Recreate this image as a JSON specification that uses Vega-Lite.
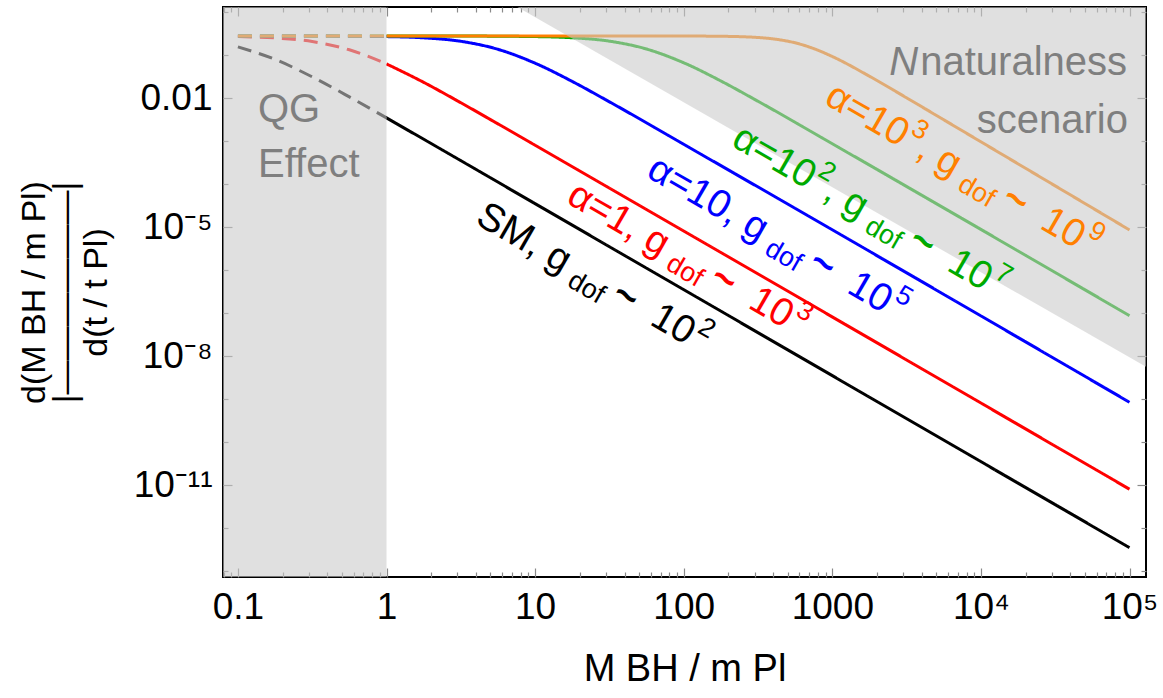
{
  "$schema": "https://vega.github.io/schema/vega-lite/v6.json",
  "width": 923,
  "height": 570,
  "autosize": {"type": "none"},
  "padding": {"left": 223, "top": 7, "right": 17, "bottom": 121},
  "config": {
    "font": "Liberation Sans",
    "view": {"stroke": "#000000", "strokeWidth": 2},
    "axis": {"grid": false, "domain": false, "tickColor": "#8a8a8a", "tickWidth": 1.2, "labelColor": "#000000", "titleColor": "#000000", "titleFontWeight": "normal", "labelOverlap": false, "labelFlush": false, "labelBound": false}
  },
  "datasets": {
    "curves": [
      {"M": 0.1, "v": 0.1568, "series": "SM", "seg": "dashed"},
      {"M": 0.17783, "v": 0.08021, "series": "SM", "seg": "dashed"},
      {"M": 0.31623, "v": 0.03151, "series": "SM", "seg": "dashed"},
      {"M": 0.56234, "v": 0.01079, "series": "SM", "seg": "dashed"},
      {"M": 1, "v": 0.003504, "series": "SM", "seg": "dashed"},
      {"M": 1, "v": 0.003504, "series": "SM", "seg": "solid"},
      {"M": 3.1623, "v": 0.0003544, "series": "SM", "seg": "solid"},
      {"M": 10, "v": 0.00003544, "series": "SM", "seg": "solid"},
      {"M": 100000, "v": 3.548e-13, "series": "SM", "seg": "solid"},
      {"M": 0.1, "v": 0.2718, "series": "α=1", "seg": "dashed"},
      {"M": 0.17783, "v": 0.2534, "series": "α=1", "seg": "dashed"},
      {"M": 0.31623, "v": 0.2088, "series": "α=1", "seg": "dashed"},
      {"M": 0.56234, "v": 0.1341, "series": "α=1", "seg": "dashed"},
      {"M": 1, "v": 0.06295, "series": "α=1", "seg": "dashed"},
      {"M": 1, "v": 0.06295, "series": "α=1", "seg": "solid"},
      {"M": 1.7783, "v": 0.0235, "series": "α=1", "seg": "solid"},
      {"M": 3.1623, "v": 0.007882, "series": "α=1", "seg": "solid"},
      {"M": 5.6234, "v": 0.002542, "series": "α=1", "seg": "solid"},
      {"M": 10, "v": 0.0008087, "series": "α=1", "seg": "solid"},
      {"M": 100000, "v": 8.11e-12, "series": "α=1", "seg": "solid"},
      {"M": 0.1, "v": 0.2811, "series": "α=10", "seg": "dashed"},
      {"M": 0.31623, "v": 0.2802, "series": "α=10", "seg": "dashed"},
      {"M": 1, "v": 0.2721, "series": "α=10", "seg": "dashed"},
      {"M": 1, "v": 0.2721, "series": "α=10", "seg": "solid"},
      {"M": 1.7783, "v": 0.2546, "series": "α=10", "seg": "solid"},
      {"M": 3.1623, "v": 0.2115, "series": "α=10", "seg": "solid"},
      {"M": 5.6234, "v": 0.1377, "series": "α=10", "seg": "solid"},
      {"M": 10, "v": 0.06544, "series": "α=10", "seg": "solid"},
      {"M": 17.783, "v": 0.02462, "series": "α=10", "seg": "solid"},
      {"M": 31.623, "v": 0.008279, "series": "α=10", "seg": "solid"},
      {"M": 100, "v": 0.0008506, "series": "α=10", "seg": "solid"},
      {"M": 100000, "v": 8.531e-10, "series": "α=10", "seg": "solid"},
      {"M": 0.1, "v": 0.2812, "series": "α=10²", "seg": "dashed"},
      {"M": 1, "v": 0.2811, "series": "α=10²", "seg": "dashed"},
      {"M": 1, "v": 0.2811, "series": "α=10²", "seg": "solid"},
      {"M": 3.1623, "v": 0.2803, "series": "α=10²", "seg": "solid"},
      {"M": 10, "v": 0.2724, "series": "α=10²", "seg": "solid"},
      {"M": 17.783, "v": 0.2553, "series": "α=10²", "seg": "solid"},
      {"M": 31.623, "v": 0.2131, "series": "α=10²", "seg": "solid"},
      {"M": 56.234, "v": 0.1398, "series": "α=10²", "seg": "solid"},
      {"M": 100, "v": 0.06696, "series": "α=10²", "seg": "solid"},
      {"M": 177.83, "v": 0.02528, "series": "α=10²", "seg": "solid"},
      {"M": 316.23, "v": 0.008523, "series": "α=10²", "seg": "solid"},
      {"M": 1000, "v": 0.0008763, "series": "α=10²", "seg": "solid"},
      {"M": 100000, "v": 8.79e-8, "series": "α=10²", "seg": "solid"},
      {"M": 0.1, "v": 0.2812, "series": "α=10³", "seg": "dashed"},
      {"M": 1, "v": 0.2812, "series": "α=10³", "seg": "dashed"},
      {"M": 1, "v": 0.2812, "series": "α=10³", "seg": "solid"},
      {"M": 31.623, "v": 0.2812, "series": "α=10³", "seg": "solid"},
      {"M": 100, "v": 0.2804, "series": "α=10³", "seg": "solid"},
      {"M": 177.83, "v": 0.2769, "series": "α=10³", "seg": "solid"},
      {"M": 316.23, "v": 0.2593, "series": "α=10³", "seg": "solid"},
      {"M": 421.7, "v": 0.235, "series": "α=10³", "seg": "solid"},
      {"M": 562.34, "v": 0.1949, "series": "α=10³", "seg": "solid"},
      {"M": 749.9, "v": 0.1432, "series": "α=10³", "seg": "solid"},
      {"M": 1000, "v": 0.09369, "series": "α=10³", "seg": "solid"},
      {"M": 1778.3, "v": 0.03256, "series": "α=10³", "seg": "solid"},
      {"M": 3162.3, "v": 0.01025, "series": "α=10³", "seg": "solid"},
      {"M": 5623.4, "v": 0.003163, "series": "α=10³", "seg": "solid"},
      {"M": 10000, "v": 0.0009727, "series": "α=10³", "seg": "solid"},
      {"M": 100000, "v": 0.000008673, "series": "α=10³", "seg": "solid"}
    ],
    "qg": [{"lo": 0.07937, "hi": 1}],
    "nat": [
      {"M": 7.589, "v": 1.3274},
      {"M": 129122, "v": 5.728e-9}
    ],
    "labMain": [
      {"M": 3.88, "v": 1.258e-5, "t": "SM, g", "series": "SM"},
      {"M": 57.88, "v": 5.726e-8, "t": "10", "series": "SM"},
      {"M": 15.89, "v": 3.874e-5, "t": "α=1, g", "series": "α=1"},
      {"M": 265.79, "v": 1.4044e-7, "t": "10", "series": "α=1"},
      {"M": 54.9, "v": 1.559e-4, "t": "α=10, g", "series": "α=10"},
      {"M": 1228.2, "v": 3.160e-7, "t": "10", "series": "α=10"},
      {"M": 204.9, "v": 8.197e-4, "t": "α=10", "series": "α=10²"},
      {"M": 850.0, "v": 4.799e-5, "t": ", g", "series": "α=10²"},
      {"M": 5782.3, "v": 1.046e-6, "t": "10", "series": "α=10²"},
      {"M": 865.9, "v": 7.77e-3, "t": "α=10", "series": "α=10³"},
      {"M": 3591.1, "v": 4.548e-4, "t": ", g", "series": "α=10³"},
      {"M": 24435, "v": 9.911e-6, "t": "10", "series": "α=10³"}
    ],
    "labTilde": [
      {"M": 31.65, "v": 1.910e-7, "t": "~", "series": "SM"},
      {"M": 145.29, "v": 4.685e-7, "t": "~", "series": "α=1"},
      {"M": 671.5, "v": 1.0541e-6, "t": "~", "series": "α=10"},
      {"M": 3161, "v": 3.489e-6, "t": "~", "series": "α=10²"},
      {"M": 13358, "v": 3.307e-5, "t": "~", "series": "α=10³"}
    ],
    "labSmall": [
      {"M": 16.151, "v": 4.457e-7, "t": "dof", "series": "SM"},
      {"M": 121.43, "v": 3.734e-8, "t": "2", "series": "SM"},
      {"M": 74.16, "v": 1.093e-6, "t": "dof", "series": "α=1"},
      {"M": 557.43, "v": 9.161e-8, "t": "3", "series": "α=1"},
      {"M": 342.7, "v": 2.459e-6, "t": "dof", "series": "α=10"},
      {"M": 2576.7, "v": 2.061e-7, "t": "5", "series": "α=10"},
      {"M": 782.2, "v": 1.620e-4, "t": "2", "series": "α=10²"},
      {"M": 1613.3, "v": 8.140e-6, "t": "dof", "series": "α=10²"},
      {"M": 12130, "v": 6.822e-7, "t": "7", "series": "α=10²"},
      {"M": 3304.8, "v": 1.536e-3, "t": "3", "series": "α=10³"},
      {"M": 6817, "v": 7.717e-5, "t": "dof", "series": "α=10³"},
      {"M": 51260, "v": 6.466e-6, "t": "9", "series": "α=10³"}
    ],
    "grayL": [
      {"M": 0.1365, "v": 2.809e-3, "t": "QG"},
      {"M": 0.1365, "v": 1.477e-4, "t": "Effect"}
    ],
    "grayN": [{"M": 2420, "v": 3.48e-2, "t": "N"}],
    "grayR": [
      {"M": 96200, "v": 3.48e-2, "t": "naturalness"},
      {"M": 97700, "v": 1.559e-3, "t": "scenario"}
    ]
  },
  "resolve": {"axis": {"x": "independent", "y": "independent"}},
  "layer": [
    {
      "data": {"name": "curves"},
      "mark": {"type": "line", "strokeWidth": 3, "interpolate": "monotone", "clip": true},
      "encoding": {
        "x": {"field": "M", "type": "quantitative",
          "scale": {"type": "log", "domain": [0.07937, 129122], "nice": false},
          "axis": {"orient": "bottom",
            "values": [0.08,0.09,0.1,0.2,0.3,0.4,0.5,0.6,0.7,0.8,0.9,1,2,3,4,5,6,7,8,9,10,20,30,40,50,60,70,80,90,100,200,300,400,500,600,700,800,900,1000,2000,3000,4000,5000,6000,7000,8000,9000,10000,20000,30000,40000,50000,60000,70000,80000,90000,100000],
            "labelExpr": "datum.value==0.1?'0.1':datum.value==1?'1':datum.value==10?'10':datum.value==100?'100':datum.value==1000?'1000':datum.value==10000?'10⁴':datum.value==100000?'10⁵':''",
            "tickSize": {"condition": {"test": "indexof([0.1,1,10,100,1000,10000,100000], datum.value) >= 0", "value": -9}, "value": -5},
            "labelFontSize": 37, "labelPadding": 21,
            "title": "M BH / m Pl", "titleFontSize": 38, "titlePadding": 21}},
        "y": {"field": "v", "type": "quantitative",
          "scale": {"type": "log", "domain": [7.362e-14, 1.3274], "nice": false},
          "axis": {"orient": "left",
            "values": [1,0.1,0.01,0.001,0.0001,1e-5,1e-6,1e-7,1e-8,1e-9,1e-10,1e-11,1e-12,1e-13],
            "labelExpr": "datum.value==0.01?'0.01':datum.value==1e-5?'10⁻⁵':datum.value==1e-8?'10⁻⁸':datum.value==1e-11?'10⁻¹¹':''",
            "tickSize": {"condition": {"test": "indexof([0.01,1e-5,1e-8,1e-11], datum.value) >= 0", "value": -9}, "value": -5},
            "labelFontSize": 37, "labelPadding": 20,
            "title": ["d(M BH / m Pl)", "|——————|", "d(t / t Pl)"], "titleFontSize": 34, "titleLineHeight": 31, "titlePadding": 20}},
        "color": {"field": "series", "type": "nominal",
          "scale": {"domain": ["SM", "α=1", "α=10", "α=10²", "α=10³"], "range": ["#000000", "#ff0000", "#0000ff", "#00aa00", "#ff8000"]},
          "legend": null},
        "strokeDash": {"field": "seg", "type": "nominal",
          "scale": {"domain": ["solid", "dashed"], "range": [[1, 0], [14, 8]]},
          "legend": null}
      }
    },
    {
      "data": {"name": "qg"},
      "mark": {"type": "rect", "fill": "#cacaca", "opacity": 0.58, "clip": true},
      "encoding": {
        "x": {"field": "lo", "type": "quantitative", "axis": null},
        "x2": {"field": "hi"}
      }
    },
    {
      "data": {"name": "nat"},
      "mark": {"type": "area", "fill": "#cacaca", "opacity": 0.58, "clip": true},
      "encoding": {
        "x": {"field": "M", "type": "quantitative",
          "axis": {"orient": "top",
            "values": [0.08,0.09,0.1,0.2,0.3,0.4,0.5,0.6,0.7,0.8,0.9,1,2,3,4,5,6,7,8,9,10,20,30,40,50,60,70,80,90,100,200,300,400,500,600,700,800,900,1000,2000,3000,4000,5000,6000,7000,8000,9000,10000,20000,30000,40000,50000,60000,70000,80000,90000,100000],
            "labels": false, "title": null,
            "tickSize": {"condition": {"test": "indexof([0.1,1,10,100,1000,10000,100000], datum.value) >= 0", "value": -9}, "value": -5}}},
        "y": {"field": "v", "type": "quantitative",
          "axis": {"orient": "right",
            "values": [1,0.1,0.01,0.001,0.0001,1e-5,1e-6,1e-7,1e-8,1e-9,1e-10,1e-11,1e-12,1e-13],
            "labels": false, "title": null,
            "tickSize": {"condition": {"test": "indexof([0.01,1e-5,1e-8,1e-11], datum.value) >= 0", "value": -9}, "value": -5}}},
        "y2": {"datum": 1.3274}
      }
    },
    {
      "data": {"name": "labMain"},
      "mark": {"type": "text", "fontSize": 39, "angle": 30, "align": "left", "baseline": "alphabetic"},
      "encoding": {
        "x": {"field": "M", "type": "quantitative", "axis": null},
        "y": {"field": "v", "type": "quantitative", "axis": null},
        "text": {"field": "t"},
        "color": {"field": "series", "type": "nominal", "legend": null}
      }
    },
    {
      "data": {"name": "labTilde"},
      "mark": {"type": "text", "fontSize": 40, "fontWeight": "bold", "angle": 30, "align": "left", "baseline": "alphabetic"},
      "encoding": {
        "x": {"field": "M", "type": "quantitative", "axis": null},
        "y": {"field": "v", "type": "quantitative", "axis": null},
        "text": {"field": "t"},
        "color": {"field": "series", "type": "nominal", "legend": null}
      }
    },
    {
      "data": {"name": "labSmall"},
      "mark": {"type": "text", "fontSize": 27, "angle": 30, "align": "left", "baseline": "alphabetic"},
      "encoding": {
        "x": {"field": "M", "type": "quantitative", "axis": null},
        "y": {"field": "v", "type": "quantitative", "axis": null},
        "text": {"field": "t"},
        "color": {"field": "series", "type": "nominal", "legend": null}
      }
    },
    {
      "data": {"name": "grayL"},
      "mark": {"type": "text", "fontSize": 40, "align": "left", "baseline": "alphabetic", "color": "#7f7f7f"},
      "encoding": {
        "x": {"field": "M", "type": "quantitative", "axis": null},
        "y": {"field": "v", "type": "quantitative", "axis": null},
        "text": {"field": "t"}
      }
    },
    {
      "data": {"name": "grayN"},
      "mark": {"type": "text", "fontSize": 40, "fontStyle": "italic", "align": "left", "baseline": "alphabetic", "color": "#7f7f7f"},
      "encoding": {
        "x": {"field": "M", "type": "quantitative", "axis": null},
        "y": {"field": "v", "type": "quantitative", "axis": null},
        "text": {"field": "t"}
      }
    },
    {
      "data": {"name": "grayR"},
      "mark": {"type": "text", "fontSize": 40, "align": "right", "baseline": "alphabetic", "color": "#7f7f7f"},
      "encoding": {
        "x": {"field": "M", "type": "quantitative", "axis": null},
        "y": {"field": "v", "type": "quantitative", "axis": null},
        "text": {"field": "t"}
      }
    }
  ]
}
